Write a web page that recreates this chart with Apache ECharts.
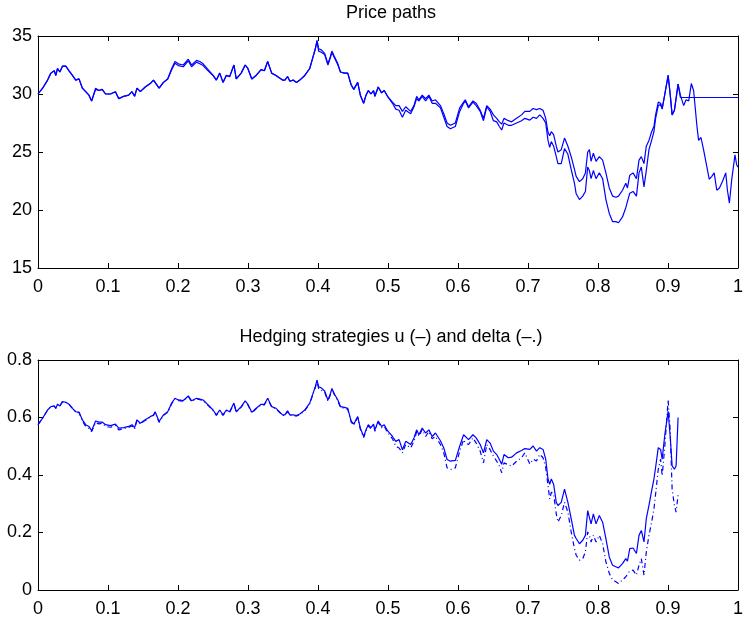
<!DOCTYPE html>
<html>
<head>
<meta charset="utf-8">
<script src="https://cdn.jsdelivr.net/npm/echarts@6/dist/echarts.min.js"></script>
<style>
html, body { margin: 0; padding: 0; background: #fff; }
#main { width: 746px; height: 618px; }
</style>
</head>
<body>
<div id="main"></div>
<script>
// time grid (fraction of the period)
var tGrid = [
    0, .0066, .0137, .0184, .0232, .0255, .0279, .0312, .035, .0397,
    .0444, .0492, .0539, .0586, .0634, .0681, .0728, .0766, .0823, .087,
    .0917, .0965, .1035, .1106, .1154, .1225, .1295, .1343, .138, .1414,
    .1461, .1532, .1603, .165, .1674, .173, .1792, .1853, .191, .1957,
    .2005, .2076, .2147, .2194, .2265, .2312, .2359, .243, .2501, .2548,
    .2596, .2643, .269, .2738, .2799, .2832, .2903, .296, .2998, .3054,
    .3116, .3187, .3234, .3281, .3338, .34, .3494,
    .3527, .3565, .3598, .3645, .3693, .374, .3811, .3882, .3929, .3962,
    .3986, .4009, .4047, .4095, .4142, .4175, .4199, .4236, .4284, .4321,
    .4378, .4425, .4473, .4511, .4567, .4605, .4652, .4686, .4719, .4756,
    .4794, .4813, .486, .4908, .4946, .4993, .5064, .5111, .5158, .5206,
    .5253, .5324, .5371, .5409, .5442, .5489, .5537, .5584, .5631, .5678,
    .5749, .5797, .5844, .5891, .5962, .6024, .608, .6104, .6151, .6213,
    .626, .6317, .6364, .6411, .6459, .6506, .6553, .6591, .6624, .6657,
    .6719, .6766, .6837, .6908, .6955,
    .7026, .7073, .7121, .7168, .7215, .7253, .7286, .731, .7333, .7366,
    .7404, .7428, .7475, .7522, .757, .7617, .7664, .7688, .7735, .7782,
    .782, .7853, .7877, .7901, .7934, .7972, .8019, .8066, .8113, .8161,
    .8208, .8255, .8293, .835, .8397, .8421, .8454, .8501, .8549, .8586,
    .8619, .8657, .869, .8728, .8766, .8799, .8823, .8861, .8894, .8917,
    .8955, .9002, .9031, .9059, .9092, .9116, .9144,
    .9177, .9224, .9258, .9296, .9333, .9366, .939, .9414, .9437, .9471,
    .9508, .9556, .9589, .9626, .966, .9697, .9735, .9778, .9825, .9849,
    .9877, .991, .9957, .9981, 1
];

// price paths
var priceA = [
    30.0, 30.5, 31.2, 31.8, 32.0, 31.6, 32.2, 31.9, 32.4, 32.4,
    32.0, 31.6, 31.2, 31.3, 30.5, 30.2, 29.9, 29.4, 30.5, 30.3,
    30.4, 30.0, 30.0, 30.2, 29.6, 29.8, 29.9, 30.2, 29.8, 30.5,
    30.2, 30.6, 30.9, 31.2, 31.3, 30.5, 31.0, 31.3, 32.2, 32.8,
    32.6, 32.5, 33.0, 32.5, 32.9, 32.8, 32.6, 32.1, 31.6, 31.2,
    31.8, 31.0, 31.6, 31.5, 32.5, 31.3, 31.8, 32.5, 32.2, 31.3,
    31.6, 32.1, 32.0, 32.8, 31.8, 31.6, 31.2,
    31.2, 31.5, 31.1, 31.2, 31.0, 31.2, 31.6, 32.2, 33.2, 33.9,
    34.6, 33.9, 33.8, 33.5, 32.6, 33.2, 33.7, 33.2, 32.6, 31.9,
    31.8, 31.8, 30.8, 30.4, 31.0, 29.9, 29.2, 29.9, 30.3, 30.0,
    30.3, 29.8, 30.6, 30.1, 30.3, 29.8, 29.3, 29.0, 29.0, 28.5,
    28.9, 28.5, 29.0, 29.8, 29.5, 29.9, 29.6, 29.9, 29.4, 29.5,
    29.0, 28.3, 27.5, 27.3, 27.5, 28.8, 29.3, 29.5, 28.9, 29.4,
    29.2, 28.6, 27.9, 29.0, 28.7, 28.2, 27.9, 27.6, 27.4, 27.9,
    27.7, 27.6, 27.9, 28.2, 28.5,
    28.5, 28.75, 28.65, 28.75, 28.6, 27.9, 26.7, 26.4, 26.75, 26.5,
    25.5, 25.0, 25.2, 26.2, 25.5, 24.6, 23.5, 22.9, 22.45, 22.7,
    23.2, 25.0, 25.2, 24.2, 24.9, 24.2, 24.6, 24.3, 23.2, 21.9,
    21.2, 21.1, 21.2, 21.7, 22.3, 21.9, 23.0, 23.2, 22.7, 24.3,
    24.6, 24.0, 25.5, 26.0, 26.75, 27.2, 28.2, 29.3, 29.2, 28.75,
    30.0, 31.6, 30.0, 28.2, 28.6, 28.6, 30.85,
    29.9, 29.0, 29.5, 29.4, 30.9, 30.3, 30.25, 27.2, 26.0, 26.25,
    25.2, 23.7, 22.65, 22.9, 23.2, 21.7, 21.9, 22.45, 23.2, 21.7,
    20.6, 22.6, 24.75, 23.9, 23.7
];
var priceB = [
    30.0, 30.5, 31.2, 31.8, 32.0, 31.6, 32.2, 31.9, 32.4, 32.4,
    32.0, 31.6, 31.2, 31.3, 30.5, 30.2, 29.9, 29.4, 30.4, 30.3,
    30.4, 30.0, 30.0, 30.2, 29.6, 29.8, 29.9, 30.2, 29.8, 30.5,
    30.2, 30.6, 30.9, 31.2, 31.3, 30.5, 31.0, 31.3, 32.1, 32.65,
    32.45, 32.35, 32.85, 32.35, 32.75, 32.6, 32.45, 32.0, 31.6, 31.2,
    31.8, 31.0, 31.6, 31.5, 32.5, 31.3, 31.8, 32.5, 32.2, 31.3,
    31.6, 32.1, 32.0, 32.8, 31.8, 31.6, 31.2,
    31.2, 31.5, 31.1, 31.2, 31.0, 31.2, 31.6, 32.2, 33.2, 33.9,
    34.6, 33.7, 33.6, 33.4, 32.5, 33.1, 33.6, 33.1, 32.5, 31.9,
    31.8, 31.8, 30.8, 30.4, 31.0, 29.9, 29.2, 29.9, 30.3, 30.0,
    30.3, 29.8, 30.6, 30.1, 30.3, 29.8, 29.2, 28.7, 28.6, 28.0,
    28.6, 28.3, 28.9, 29.6, 29.4, 29.8, 29.4, 29.8, 29.2, 29.2,
    28.8, 28.0, 27.2, 27.0, 27.2, 28.5, 29.2, 29.4, 28.8, 29.3,
    29.0, 28.5, 27.7, 28.9, 28.5, 27.7, 27.6, 27.2, 26.9, 27.5,
    27.3, 27.3, 27.5, 27.7, 27.9,
    27.75, 28.0, 27.9, 28.2, 27.9, 27.5, 26.0, 25.4, 25.9, 25.5,
    24.6, 24.0, 24.0, 25.3, 24.8, 23.5, 22.3, 21.4, 20.9, 21.2,
    21.6, 23.7, 23.4, 22.7, 23.4, 22.7, 23.2, 22.7, 20.9, 19.7,
    19.0, 19.0, 18.9, 19.4, 20.2, 20.3, 21.45, 21.6, 21.2, 23.2,
    23.7, 22.0, 23.4, 25.2, 26.0, 26.75, 27.9, 29.0, 29.1, 28.7,
    30.0, 31.6, 30.0, 28.2, 28.6, 28.6, 30.85,
    29.7, 29.7, 29.7, 29.7, 29.7, 29.7, 29.7, 29.7, 29.7, 29.7,
    29.7, 29.7, 29.7, 29.7, 29.7, 29.7, 29.7, 29.7, 29.7, 29.7,
    29.7, 29.7, 29.7, 29.7, 29.7
];

// hedging strategies (stop at t ~ 0.914)
var uVals = [
    0.575, 0.598, 0.626, 0.638, 0.64, 0.632, 0.646, 0.64, 0.655, 0.653,
    0.646, 0.632, 0.62, 0.618, 0.592, 0.575, 0.569, 0.554, 0.588, 0.584,
    0.584, 0.575, 0.572, 0.577, 0.563, 0.565, 0.569, 0.575, 0.565, 0.592,
    0.58, 0.592, 0.603, 0.609, 0.62, 0.586, 0.609, 0.62, 0.65, 0.667,
    0.661, 0.659, 0.675, 0.658, 0.667, 0.664, 0.661, 0.644, 0.626, 0.609,
    0.626, 0.609, 0.626, 0.62, 0.65, 0.62, 0.638, 0.658, 0.646, 0.618,
    0.632, 0.646, 0.646, 0.667, 0.638, 0.632, 0.609,
    0.609, 0.623, 0.609, 0.609, 0.607, 0.612, 0.626, 0.65, 0.684, 0.707,
    0.73, 0.707, 0.703, 0.692, 0.661, 0.681, 0.701, 0.681, 0.661, 0.638,
    0.635, 0.632, 0.588, 0.577, 0.603, 0.563, 0.534, 0.557, 0.575, 0.565,
    0.577, 0.557, 0.588, 0.569, 0.575, 0.554, 0.534, 0.517, 0.523, 0.488,
    0.517, 0.506, 0.529, 0.557, 0.54, 0.563, 0.546, 0.557, 0.534, 0.546,
    0.519, 0.494, 0.454, 0.448, 0.451, 0.5, 0.54, 0.542, 0.523, 0.54,
    0.529, 0.506, 0.477, 0.523, 0.511, 0.483, 0.471, 0.454, 0.437, 0.471,
    0.46, 0.462, 0.477, 0.485, 0.492,
    0.489, 0.501, 0.483, 0.495, 0.489, 0.455, 0.386, 0.368, 0.386, 0.368,
    0.305, 0.294, 0.305, 0.351, 0.305, 0.248, 0.19, 0.179, 0.161, 0.173,
    0.19, 0.276, 0.282, 0.23, 0.265, 0.23, 0.259, 0.236, 0.179, 0.115,
    0.086, 0.081, 0.077, 0.092, 0.109, 0.1, 0.144, 0.146, 0.127, 0.19,
    0.207, 0.167, 0.248, 0.294, 0.345, 0.386, 0.426, 0.495, 0.489, 0.455,
    0.541, 0.622, 0.535, 0.432, 0.42, 0.432, 0.6
];
var deltaVals = [
    0.575, 0.598, 0.626, 0.638, 0.64, 0.632, 0.646, 0.64, 0.655, 0.653,
    0.646, 0.632, 0.62, 0.618, 0.588, 0.569, 0.562, 0.551, 0.582, 0.578,
    0.58, 0.569, 0.566, 0.572, 0.557, 0.561, 0.565, 0.571, 0.56, 0.59,
    0.578, 0.59, 0.601, 0.607, 0.618, 0.583, 0.607, 0.618, 0.648, 0.665,
    0.659, 0.657, 0.673, 0.656, 0.665, 0.662, 0.659, 0.642, 0.624, 0.607,
    0.624, 0.607, 0.624, 0.618, 0.648, 0.618, 0.636, 0.656, 0.644, 0.616,
    0.63, 0.644, 0.644, 0.665, 0.636, 0.63, 0.607,
    0.607, 0.621, 0.607, 0.607, 0.605, 0.61, 0.624, 0.648, 0.682, 0.705,
    0.728, 0.7, 0.695, 0.688, 0.657, 0.678, 0.698, 0.678, 0.657, 0.635,
    0.632, 0.629, 0.585, 0.573, 0.6, 0.559, 0.53, 0.553, 0.571, 0.561,
    0.573, 0.552, 0.584, 0.564, 0.57, 0.548, 0.526, 0.5, 0.494, 0.477,
    0.506, 0.494, 0.517, 0.55, 0.535, 0.558, 0.534, 0.551, 0.526, 0.534,
    0.506, 0.477, 0.425, 0.419, 0.425, 0.483, 0.523, 0.511, 0.506, 0.529,
    0.511, 0.483, 0.442, 0.506, 0.488, 0.465, 0.448, 0.431, 0.408, 0.442,
    0.436, 0.431, 0.448, 0.46, 0.477,
    0.438, 0.455, 0.449, 0.472, 0.46, 0.426, 0.363, 0.317, 0.34, 0.334,
    0.265, 0.236, 0.259, 0.305, 0.271, 0.202, 0.144, 0.121, 0.104, 0.109,
    0.132, 0.202, 0.19, 0.167, 0.19, 0.167, 0.19, 0.161, 0.098, 0.058,
    0.035, 0.029, 0.023, 0.035, 0.046, 0.04, 0.066, 0.069, 0.052, 0.086,
    0.109, 0.052, 0.132, 0.19, 0.236, 0.282, 0.334, 0.42, 0.455, 0.397,
    0.501, 0.662, 0.558, 0.351, 0.294, 0.271, 0.33
];

var font = 'Liberation Sans, Arial, Helvetica, sans-serif';
var blue = '#0000ff';

function pairs(vals) {
    return vals.map(function(v, i) { return [tGrid[i], v]; });
}
function xAx(grid, pos, labels) {
    return {
        type: 'value', gridIndex: grid, position: pos, min: 0, max: 1, interval: 0.1,
        axisLine: {show: true, onZero: false, lineStyle: {color: '#000', width: 1}},
        axisTick: {show: true, inside: true, length: 5, lineStyle: {color: '#000'}},
        axisLabel: {show: labels, color: '#000', fontSize: 18, fontFamily: font, margin: 10,
            formatter: function(v) { return String(+v.toFixed(1)); }},
        splitLine: {show: false}
    };
}
function yAx(grid, pos, labels, min, max, step) {
    return {
        type: 'value', gridIndex: grid, position: pos, min: min, max: max, interval: step,
        axisLine: {show: true, onZero: false, lineStyle: {color: '#000', width: 1}},
        axisTick: {show: true, inside: true, length: 5, lineStyle: {color: '#000'}},
        axisLabel: {show: labels, color: '#000', fontSize: 18, fontFamily: font, margin: 6,
            formatter: function(v) { return String(+v.toFixed(1)); }},
        splitLine: {show: false}
    };
}
function line(xi, yi, name, vals, type) {
    return {
        name: name, type: 'line', xAxisIndex: xi, yAxisIndex: yi,
        data: pairs(vals), showSymbol: false, symbol: 'none',
        lineStyle: {color: blue, width: 1.2, type: type || 'solid'},
        animation: false, silent: true
    };
}

var chart = echarts.init(document.getElementById('main'));
chart.setOption({
    backgroundColor: '#fff',
    animation: false,
    title: [
        {text: 'Price paths', left: 391, top: 4, textAlign: 'center', padding: 0,
            textStyle: {fontFamily: font, fontSize: 18, fontWeight: 'normal', color: '#000'}},
        {text: 'Hedging strategies u (\u2013) and delta (\u2013.)', left: 391, top: 328, textAlign: 'center', padding: 0,
            textStyle: {fontFamily: font, fontSize: 18, fontWeight: 'normal', color: '#000'}}
    ],
    grid: [
        {left: 38, right: 2, top: 36, height: 232},
        {left: 38, right: 2, top: 360, height: 232}
    ],
    xAxis: [xAx(0, 'bottom', true), xAx(0, 'top', false), xAx(1, 'bottom', true), xAx(1, 'top', false)],
    yAxis: [yAx(0, 'left', true, 15, 35, 5), yAx(0, 'right', false, 15, 35, 5),
            yAx(1, 'left', true, 0, 0.8, 0.2), yAx(1, 'right', false, 0, 0.8, 0.2)],
    series: [
        line(0, 0, 'path A', priceA),
        line(0, 0, 'path B', priceB),
        line(2, 2, 'u', uVals),
        line(2, 2, 'delta', deltaVals, [5, 3, 1, 3])
    ]
});
</script>
</body>
</html>
